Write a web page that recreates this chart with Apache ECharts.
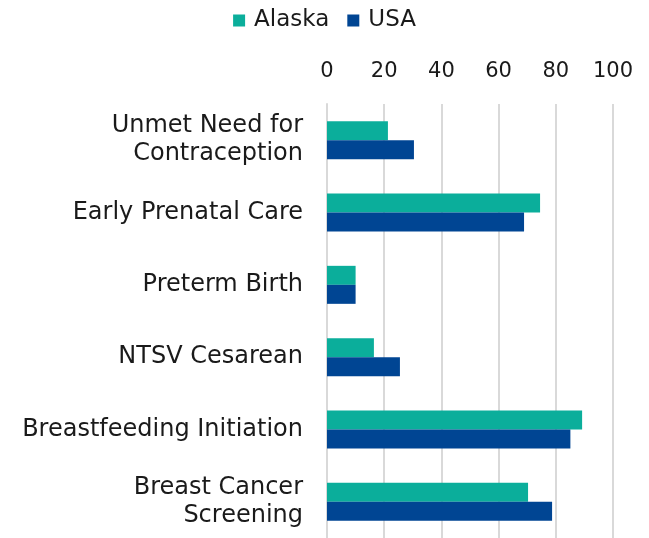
<!DOCTYPE html>
<html>
<head>
<meta charset="utf-8">
<script src="https://cdn.jsdelivr.net/npm/echarts@6/dist/echarts.min.js"></script>
<style>
	html,body{margin:0;padding:0;background:#fff;}
	#main{width:649px;height:538px;}
</style>
</head>
<body>
<div id="main"></div>
<script>
	var categories = ['Unmet Need for\nContraception', 'Early Prenatal Care', 'Preterm Birth', 'NTSV Cesarean', 'Breastfeeding Initiation', 'Breast Cancer\nScreening'];
	var alaskaValues = [21.3, 74.5, 10, 16.4, 89.2, 70.3];
	var usaValues = [30.4, 68.9, 10, 25.5, 85.1, 78.7];

	var font = '"DejaVu Sans", sans-serif';
	var chart = echarts.init(document.getElementById('main'));
	var option = {
		animation: false,
		textStyle: { fontFamily: font },
		legend: {
			top: 4,
			left: 'center',
			itemWidth: 12,
			itemHeight: 12,
			itemGap: 18,
			icon: 'rect',
			textStyle: { fontSize: 23, color: '#1a1a1a', fontFamily: font, padding: [0, 0, 0, 4] },
			data: ['Alaska', 'USA']
		},
		grid: {
			left: 327,
			right: 36,
			top: 104,
			height: 439
		},
		xAxis: {
			type: 'value',
			position: 'top',
			min: 0,
			max: 100,
			interval: 20,
			axisLine: { show: false },
			axisTick: { show: false },
			axisLabel: { fontSize: 21, color: '#1a1a1a', margin: 22, fontFamily: font },
			splitLine: { lineStyle: { color: '#d9d9d9', width: 2 } }
		},
		yAxis: {
			type: 'category',
			inverse: true,
			data: categories,
			axisLine: { show: true, lineStyle: { color: '#d9d9d9', width: 2 } },
			axisTick: { show: false },
			axisLabel: { fontSize: 24, color: '#1a1a1a', margin: 24, lineHeight: 28, padding: [5, 0, 0, 0], fontFamily: font }
		},
		series: [
			{
				name: 'Alaska',
				type: 'bar',
				data: alaskaValues,
				barWidth: 19,
				barGap: '0%',
				itemStyle: { color: '#0bae9b' }
			},
			{
				name: 'USA',
				type: 'bar',
				data: usaValues,
				barWidth: 19,
				itemStyle: { color: '#004593' }
			}
		]
	};
	chart.setOption(option);
</script>
</body>
</html>
